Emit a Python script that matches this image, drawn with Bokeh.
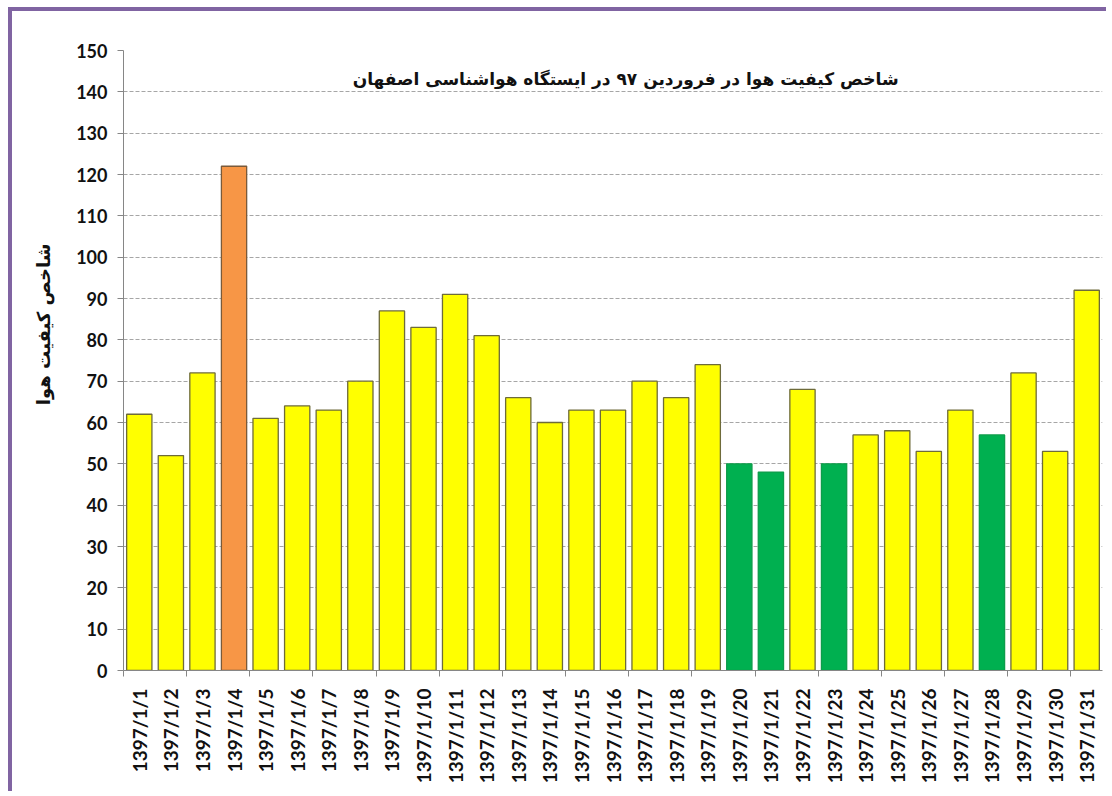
import math
from bokeh.plotting import figure
from bokeh.models import FixedTicker, Label, ColumnDataSource, Range1d, Title
from bokeh.embed import file_html
from bokeh.resources import INLINE

# ---- data ----
days = ["1397/1/1", "1397/1/2", "1397/1/3", "1397/1/4", "1397/1/5", "1397/1/6",
        "1397/1/7", "1397/1/8", "1397/1/9", "1397/1/10", "1397/1/11", "1397/1/12",
        "1397/1/13", "1397/1/14", "1397/1/15", "1397/1/16", "1397/1/17", "1397/1/18",
        "1397/1/19", "1397/1/20", "1397/1/21", "1397/1/22", "1397/1/23", "1397/1/24",
        "1397/1/25", "1397/1/26", "1397/1/27", "1397/1/28", "1397/1/29", "1397/1/30",
        "1397/1/31"]
aqi = [62, 52, 72, 122, 61, 64, 63, 70, 87, 83, 91, 81, 66, 60, 63, 63, 70, 66,
       74, 50, 48, 68, 50, 57, 58, 53, 63, 57, 72, 53, 92]
level = ["moderate", "moderate", "moderate", "sensitive", "moderate", "moderate",
         "moderate", "moderate", "moderate", "moderate", "moderate", "moderate",
         "moderate", "moderate", "moderate", "moderate", "moderate", "moderate",
         "moderate", "good", "good", "moderate", "good", "moderate",
         "moderate", "moderate", "moderate", "good", "moderate", "moderate",
         "moderate"]
y_ticks = [0, 10, 20, 30, 40, 50, 60, 70, 80, 90, 100, 110, 120, 130, 140, 150]
title_text = "شاخص کیفیت هوا در فروردین ۹۷ در ایستگاه هواشناسی اصفهان"
y_label_text = "شاخص کیفیت هوا"

# ---- styles ----
fill_map = {"good": "#00B050", "moderate": "#FFFF00", "sensitive": "#F79646"}
line_map = {"good": "#0E9C4A", "moderate": "#6E6B3A", "sensitive": "#7A5A3A"}

n = len(days)
centers = [i + 0.5 for i in range(n)]
src = ColumnDataSource(dict(
    x=centers, top=aqi,
    fill=[fill_map[l] for l in level],
    line=[line_map[l] for l in level],
))

p = figure(width=1098, height=784, output_backend="svg", toolbar_location=None,
           x_range=Range1d(0, n), y_range=Range1d(0, 150),
           min_border_left=111, min_border_top=39, min_border_right=8,
           min_border_bottom=125)
p.styles = {"border-top": "4px solid #8064A2", "border-left": "4px solid #8064A2",
            "margin-top": "7px", "margin-left": "8px"}
p.outline_line_color = None
p.background_fill_color = "white"
p.border_fill_color = "white"

p.vbar(x="x", top="top", bottom=0, width=0.8, source=src,
       fill_color="fill", line_color="line", line_width=1.3)

# axes
axis_color = "#868686"
p.xaxis.ticker = FixedTicker(ticks=centers, minor_ticks=list(range(0, n + 1, 2)))
p.xaxis.major_label_overrides = {c: d for c, d in zip(centers, days)}
p.xaxis.major_label_orientation = math.pi / 2
p.xaxis.major_tick_out = 0
p.xaxis.major_tick_in = 0
p.xaxis.minor_tick_out = 6
p.xaxis.minor_tick_in = 0
p.xaxis.minor_tick_line_color = axis_color
p.xaxis.axis_line_color = axis_color
p.xaxis.major_label_standoff = 12
p.xaxis.major_label_text_font = "Lato"
p.xaxis.major_label_text_font_style = "bold"
p.xaxis.major_label_text_font_size = "19px"
p.xaxis.major_label_text_color = "#111111"

p.yaxis.ticker = FixedTicker(ticks=y_ticks)
p.yaxis.major_tick_out = 6
p.yaxis.major_tick_in = 0
p.yaxis.minor_tick_line_color = None
p.yaxis.axis_line_color = axis_color
p.yaxis.major_tick_line_color = axis_color
p.yaxis.major_label_standoff = 10
p.yaxis.major_label_text_font = "Lato"
p.yaxis.major_label_text_font_style = "bold"
p.yaxis.major_label_text_font_size = "18px"
p.yaxis.major_label_text_color = "#111111"

p.xgrid.grid_line_color = None
p.ygrid.grid_line_color = "#A6A6A6"
p.ygrid.grid_line_dash = "4 2"
p.ygrid.grid_line_width = 1

# title inside the frame
p.add_layout(Label(x=15.9, y=143.2, text=title_text, text_align="center",
                   text_baseline="middle", text_font="DejaVu Sans",
                   text_font_style="bold", text_font_size="17px",
                   text_color="#111111"))
# y axis label as a left-side title
p.add_layout(Title(text=y_label_text, align="right", offset=193, standoff=38,
                   vertical_align="middle", text_font="DejaVu Sans",
                   text_font_style="bold", text_font_size="18px",
                   text_color="#111111"), "left")

open("out.html", "w").write(file_html(p, INLINE))
